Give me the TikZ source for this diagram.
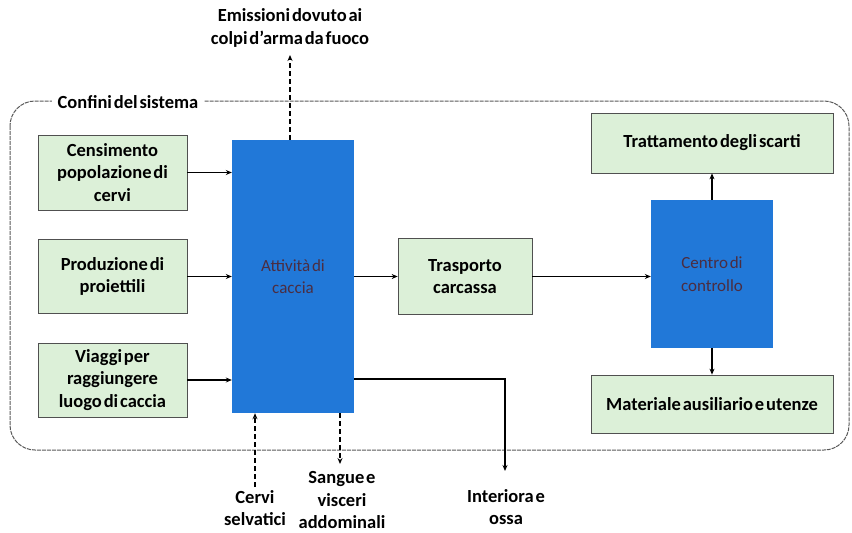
\documentclass[tikz,border=0pt]{standalone}
\usepackage{fontspec}
\setmainfont{Carlito}[WordSpace=0.45]
\usetikzlibrary{arrows.meta}
\definecolor{boxgreen}{RGB}{220,240,216}
\definecolor{boxblue}{RGB}{33,120,216}
\definecolor{bluetext}{RGB}{75,45,65}
\definecolor{edge}{RGB}{80,80,80}
\begin{document}
\begin{tikzpicture}[x=1pt,y=-1pt,
  gbox/.style={draw=edge,line width=0.7pt,fill=boxgreen,align=center,inner sep=2pt,
    font=\bfseries\fontsize{18.5}{22.5}\selectfont},
  bbox/.style={fill=boxblue,align=center,text=bluetext,
    font=\fontsize{17}{22.5}\selectfont},
  lbl/.style={align=center,font=\bfseries\fontsize{18.5}{22.5}\selectfont},
  arr/.style={line width=1.1pt,-{Stealth[length=6pt,width=5pt]}},
  darr/.style={line width=1.3pt,dash pattern=on 5pt off 3pt,-{Stealth[length=6pt,width=5pt]}},
  bound/.style={draw=gray!70!black,line width=1pt,dash pattern=on 4pt off 1pt,rounded corners=25pt}]
\useasboundingbox (0,0) rectangle (852,533);
% system boundary
\draw[bound] (10,101) rectangle (849,450);
\node[lbl,fill=white,inner xsep=6pt,inner ysep=1pt] (sys) at (128,102) {Confini del sistema};
% nodes
\node[gbox,minimum width=149pt,minimum height=75pt] (c1) at (112.5,172.5) {Censimento\\popolazione di\\cervi};
\node[gbox,minimum width=149pt,minimum height=74pt] (c2) at (112.5,276.5) {Produzione di\\proiettili};
\node[gbox,minimum width=149pt,minimum height=74pt] (c3) at (112.5,380) {Viaggi per\\raggiungere\\luogo di caccia};
\node[bbox,minimum width=122pt,minimum height=273pt] (att) at (293,276.5) {Attività di\\caccia};
\node[gbox,minimum width=134pt,minimum height=76pt] (tra) at (465,276.5) {Trasporto\\carcassa};
\node[bbox,minimum width=122pt,minimum height=148pt] (cen) at (712,274) {Centro di\\controllo};
\node[gbox,minimum width=242pt,minimum height=60pt] (trt) at (712,143) {Trattamento degli scarti};
\node[gbox,minimum width=242pt,minimum height=58pt] (mat) at (712,404) {Materiale ausiliario e utenze};
% outside labels
\node[lbl] (em) at (290,28) {Emissioni dovuto ai\\colpi d’arma da fuoco};
\node[lbl] (cv) at (255,508) {Cervi\\selvatici};
\node[lbl] (sg) at (342,500) {Sangue e\\visceri\\addominali};
\node[lbl] (io) at (506,507) {Interiora e\\ossa};
\coordinate (emE) at (290,55);
\coordinate (cvS) at (255,487);
\coordinate (sgE) at (340,464);
\coordinate (ioE) at (505,471);
% connectors
\draw[arr] (c1.east) -- (c1.east -| att.west);
\draw[arr] (c2.east) -- (c2.east -| att.west);
\draw[arr] (c3.east) -- (c3.east -| att.west);
\draw[arr] (att.east |- tra.west) -- (tra.west);
\draw[arr] (tra.east) -- (tra.east -| cen.west);
\draw[arr] (cen.north) -- (trt.south);
\draw[arr] (cen.south) -- (mat.north);
\draw[arr] (att.east |- 0,379) -| (ioE);
\draw[darr] (att.north -| emE) -- (emE);
\draw[darr] (cvS) -- (cvS |- att.south);
\draw[darr] (att.south -| sgE) -- (sgE);
\end{tikzpicture}
\end{document}
